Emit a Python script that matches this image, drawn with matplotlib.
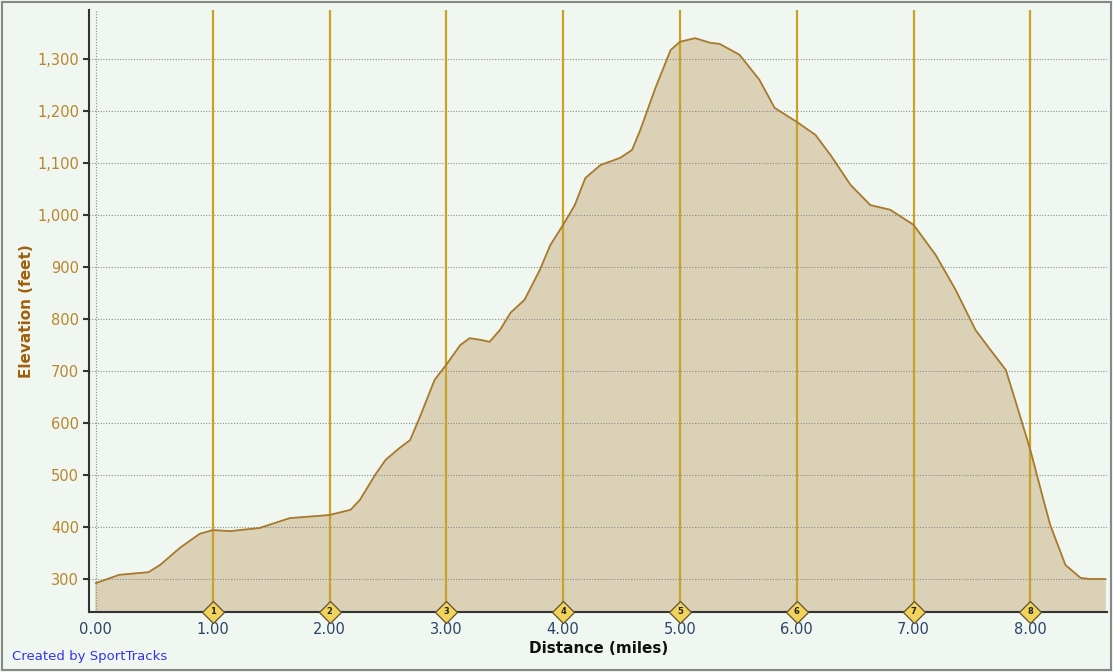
import matplotlib
matplotlib.use("Agg")
import matplotlib.pyplot as plt
from matplotlib.ticker import FuncFormatter

distance = [0.0, 0.2, 0.3, 0.45, 0.55, 0.72, 0.89, 1.0, 1.15, 1.4, 1.66, 2.0, 2.18, 2.26, 2.39,
            2.48, 2.6, 2.69, 2.78, 2.9, 3.0, 3.12, 3.2, 3.29, 3.37, 3.46, 3.55, 3.67, 3.8,
            3.89, 4.0, 4.1, 4.19, 4.32, 4.49, 4.59, 4.66, 4.79, 4.92, 5.0, 5.13, 5.26, 5.34,
            5.51, 5.68, 5.81, 6.0, 6.16, 6.29, 6.46, 6.63, 6.8, 7.0, 7.19, 7.36, 7.53, 7.66,
            7.79, 7.87, 8.0, 8.09, 8.17, 8.3, 8.43, 8.51, 8.64]
elevation = [292, 308, 310, 313, 327, 360, 387, 394, 392, 398, 417, 423, 433, 452, 500,
             529, 552, 567, 615, 683, 712, 750, 763, 760, 756, 779, 812, 837, 894,
             942, 981, 1019, 1071, 1096, 1110, 1125, 1163, 1244, 1317, 1333, 1340, 1331, 1329,
             1308, 1260, 1206, 1179, 1154, 1115, 1058, 1019, 1010, 981, 923, 856, 779, 740,
             702, 644, 548, 471, 404, 327, 302, 300, 300]
mile_markers = [1, 2, 3, 4, 5, 6, 7, 8]
x_ticks = [0, 1, 2, 3, 4, 5, 6, 7, 8]
y_ticks = [300, 400, 500, 600, 700, 800, 900, 1000, 1100, 1200, 1300]

bg = "#F0F7F0"
fig = plt.figure(figsize=(11.13, 6.72), dpi=100, facecolor=bg)
ax = fig.add_axes([0.0804, 0.0893, 0.9146, 0.8957])
ax.set_facecolor(bg)
ax.set_xlim(-0.055, 8.66)
ax.set_ylim(236.5, 1394)

ax.fill_between(distance, elevation, 0, color="#DAD1B7", zorder=1)
ax.plot(distance, elevation, color="#A87A2E", lw=1.3, zorder=3)

for y in y_ticks:
    ax.axhline(y, color="#8c8c8c", lw=0.8, ls=(0, (1, 1.5)), zorder=2)
ax.axvline(0, color="#8c8c8c", lw=0.8, ls=(0, (1, 1.5)), zorder=2)

for m in mile_markers:
    ax.axvline(m, color="#C9A227", lw=1.6, zorder=2)
    ax.plot(m, 236.5, marker="D", ms=11.5, mfc="#F2D45C", mec="#5e5030", mew=0.9,
            clip_on=False, zorder=5)
    ax.text(m, 236.5, str(m), ha="center", va="center", fontsize=6, color="#222222",
            fontweight="bold", zorder=6, clip_on=False)

for s in ["top", "right"]:
    ax.spines[s].set_visible(False)
ax.spines["left"].set_color("#333333")
ax.spines["left"].set_linewidth(1.5)
ax.spines["bottom"].set_color("#333333")
ax.spines["bottom"].set_linewidth(1.5)

ax.set_yticks(y_ticks)
ax.yaxis.set_major_formatter(FuncFormatter(lambda v, p: f"{int(v):,}"))
ax.tick_params(axis="y", colors="#333333", labelcolor="#B8862E", labelsize=10.5,
               length=4, width=1.5, direction="out")
ax.set_xticks(x_ticks)
ax.set_xticklabels([f"{v:.2f}" for v in x_ticks])
ax.tick_params(axis="x", colors="#333333", labelcolor="#2E4466", labelsize=10.5,
               length=0, pad=7)

ax.set_ylabel("Elevation (feet)", fontsize=11, fontweight="bold", color="#A0600C", labelpad=2)
ax.set_xlabel("Distance (miles)", fontsize=11, fontweight="bold", color="#111111", labelpad=3)

fig.text(0.011, 0.018, "Created by SportTracks", color="#3333EE", fontsize=9.5)

border = plt.Rectangle((0.002, 0.003), 0.996, 0.994, transform=fig.transFigure,
                       fill=False, ec="#888888", lw=1.5)
fig.add_artist(border)

fig.savefig("out.png", dpi=100, facecolor=bg)
